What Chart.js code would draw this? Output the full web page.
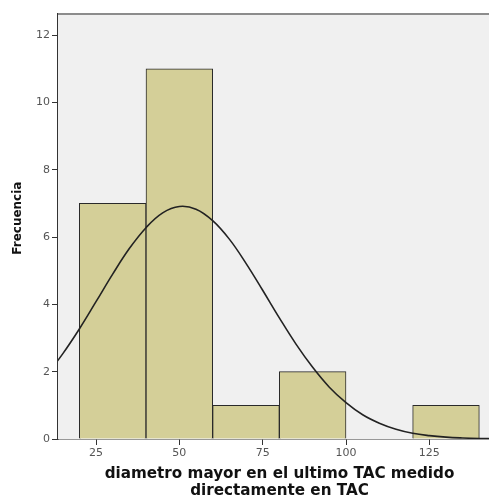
<!DOCTYPE html>
<html>
<head>
<meta charset="utf-8">
<style>
  html, body { margin: 0; padding: 0; background: #fff; overflow: hidden; }
</style>
</head>
<body>
<!-- el lienzo es algo mas ancho que la ventana: el area del grafico sigue tras el borde derecho -->
<canvas id="histograma" width="501" height="501"></canvas>

<script src="https://cdn.jsdelivr.net/npm/chart.js"></script>

<script>
  // intervalos de 20 mm (centro de cada barra) y frecuencias
  const binCenters = [30, 50, 70, 90, 110, 130];
  const frecuencias = [7, 11, 1, 2, 0, 1];

  // curva normal ajustada, leida cada 5 mm
  const curvaX = [10, 15, 20, 25, 30, 35, 40, 45, 50, 55, 60, 65, 70, 75, 80, 85, 90, 95, 100, 105, 110, 115, 120, 125, 130, 135, 140, 145, 150];
  const curvaY = [1.88, 2.53, 3.27, 4.08, 4.9, 5.66, 6.28, 6.72, 6.91, 6.83, 6.49, 5.94, 5.22, 4.42, 3.6, 2.82, 2.13, 1.54, 1.08, 0.72, 0.47, 0.29, 0.17, 0.1, 0.055, 0.03, 0.015, 0.007, 0.003];

  const xTicks = [25, 50, 75, 100, 125];
  const yTicks = [0, 2, 4, 6, 8, 10, 12];

  const fondoArea = {
    id: 'fondoArea',
    beforeDatasetsDraw(chart) {
      const { ctx, chartArea: a } = chart;
      ctx.save();
      ctx.fillStyle = '#f0f0f0';
      ctx.fillRect(a.left, a.top, a.right - a.left, a.bottom - a.top);
      ctx.strokeStyle = '#8c8c8c';
      ctx.lineWidth = 2;
      ctx.beginPath();
      ctx.moveTo(a.left, a.top);
      ctx.lineTo(a.right, a.top);
      ctx.stroke();
      ctx.restore();
    }
  };

  const ctx = document.getElementById('histograma');

  new Chart(ctx, {
    type: 'bar',
    data: {
      datasets: [{
        type: 'line',
        data: curvaX.map((x, i) => ({ x: x, y: curvaY[i] })),
        borderColor: '#222',
        borderWidth: 1.6,
        pointRadius: 0,
        tension: 0.4,
        fill: false
      }, {
        type: 'bar',
        data: binCenters.map((x, i) => ({ x: x, y: frecuencias[i] })),
        backgroundColor: '#d4cf98',
        borderColor: '#2a2a2a',
        borderWidth: 1,
        barPercentage: 1,
        categoryPercentage: 1
      }]
    },
    options: {
      responsive: false,
      animation: false,
      devicePixelRatio: 1,
      layout: { padding: { top: 14, left: 0, right: 0, bottom: 0 } },
      plugins: {
        legend: { display: false },
        tooltip: { enabled: false }
      },
      scales: {
        x: {
          type: 'linear',
          min: 13.6,
          max: 146.5,
          offset: false,
          afterBuildTicks: s => { s.ticks = xTicks.map(v => ({ value: v })); },
          afterFit: s => { s.height = 62; },
          grid: { offset: false, drawOnChartArea: false, drawTicks: true, tickLength: 6, color: '#333' },
          border: { display: true, color: '#333', width: 1.5 },
          ticks: { color: '#555', font: { family: 'DejaVu Sans', size: 11 }, padding: 2, maxRotation: 0 },
          title: {
            display: true,
            text: ['diametro mayor en el ultimo TAC medido', 'directamente en TAC'],
            color: '#111',
            font: { family: 'DejaVu Sans', size: 15.2, weight: 'bold', lineHeight: 1.08 },
            padding: { top: 4, bottom: 2 }
          }
        },
        y: {
          min: 0,
          max: 12.63,
          afterBuildTicks: s => { s.ticks = yTicks.map(v => ({ value: v })); },
          afterFit: s => { s.width = 58; },
          grid: { offset: false, drawOnChartArea: false, drawTicks: true, tickLength: 6, color: '#333' },
          border: { display: true, color: '#333', width: 1.5 },
          ticks: { color: '#555', font: { family: 'DejaVu Sans', size: 11 }, padding: 2 },
          title: {
            display: true,
            text: '    Frecuencia',
            color: '#111',
            font: { family: 'DejaVu Sans', size: 12, weight: 'bold' },
            padding: { top: 11, bottom: 0 }
          }
        }
      }
    },
    plugins: [fondoArea]
  });
</script>
</body>
</html>
